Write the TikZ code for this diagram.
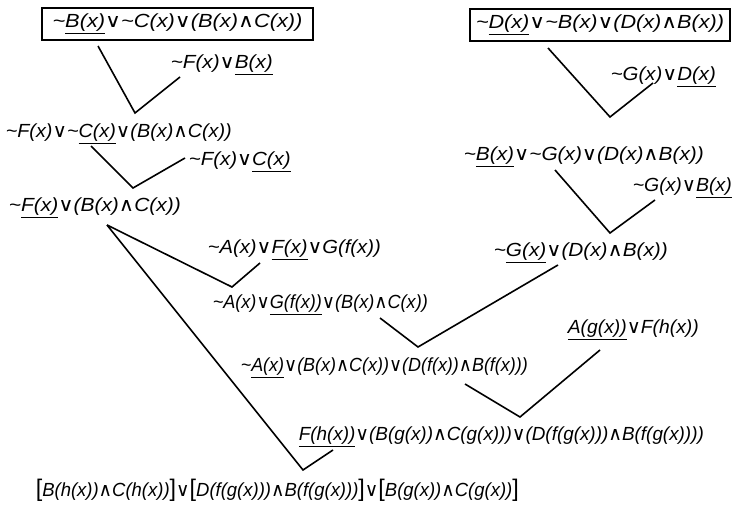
\documentclass[tikz,border=0pt]{standalone}
\usepackage{fontspec}
\usepackage{graphicx}
\newfontfamily\rf{Liberation Sans}
\newfontfamily\symf{DejaVu Sans}
\newcommand{\myor}{{\symf\upshape ∨}}
\newcommand{\myand}{{\symf\upshape ∧}}
\newcommand{\mynot}{\textasciitilde}
\newcommand{\uln}[1]{\underline{#1}}
\newcommand{\fitw}[2]{\resizebox{#1pt}{\height}{#2}}
\newcommand{\mylb}{{\fontsize{24}{24}\selectfont\upshape[}}
\newcommand{\myrb}{{\fontsize{24}{24}\selectfont\upshape]}}
\begin{document}
\begin{tikzpicture}[x=1pt,y=-1pt,line width=1.6pt,
  txt/.style={anchor=west,inner sep=0pt,font=\rf\itshape\fontsize{19}{22}\selectfont},
  boxed/.style={draw,line width=1.8pt,inner sep=0pt,minimum height=32pt,font=\rf\itshape\fontsize{19}{22}\selectfont}]
\useasboundingbox (0,0) rectangle (737,506);
% boxed premises
\node[boxed,minimum width=271pt] (n1) at (177.5,24) {\fitw{250}{\mynot\uln{B(x)}\myor\mynot C(x)\myor(B(x)\myand C(x))}};
\node[boxed,minimum width=260pt] (n2) at (600,25) {\fitw{248}{\mynot\uln{D(x)}\myor\mynot B(x)\myor(D(x)\myand B(x))}};
% clauses
\node[txt] (n3) at (170,65) {\fitw{102}{\mynot F(x)\myor\uln{B(x)}}};
\node[txt] (n4) at (610,77) {\fitw{105}{\mynot G(x)\myor\uln{D(x)}}};
\node[txt] (n5) at (5,134) {\fitw{226}{\mynot F(x)\myor\mynot\uln{C(x)}\myor(B(x)\myand C(x))}};
\node[txt] (n6) at (188,162) {\fitw{102}{\mynot F(x)\myor\uln{C(x)}}};
\node[txt] (n7) at (463,157) {\fitw{240}{\mynot\uln{B(x)}\myor\mynot G(x)\myor(D(x)\myand B(x))}};
\node[txt] (n8) at (632,188) {\fitw{99}{\mynot G(x)\myor\uln{B(x)}}};
\node[txt] (n9) at (8,208) {\fitw{172}{\mynot\uln{F(x)}\myor(B(x)\myand C(x))}};
\node[txt] (n10) at (207,250) {\fitw{173}{\mynot A(x)\myor\uln{F(x)}\myor G(f(x))}};
\node[txt] (n11) at (493,253) {\fitw{174}{\mynot\uln{G(x)}\myor(D(x)\myand B(x))}};
\node[txt] (n12) at (212,305) {\fitw{215}{\mynot A(x)\myor\uln{G(f(x))}\myor(B(x)\myand C(x))}};
\node[txt] (n13) at (567,330) {\fitw{131}{\uln{A(g(x))}\myor F(h(x))}};
\node[txt] (n14) at (240,368) {\fitw{287}{\mynot\uln{A(x)}\myor(B(x)\myand C(x))\myor(D(f(x))\myand B(f(x)))}};
\node[txt] (n15) at (298,437) {\fitw{405}{\uln{F(h(x))}\myor(B(g(x))\myand C(g(x)))\myor(D(f(g(x)))\myand B(f(g(x))))}};
\node[txt] (n16) at (35,490) {\fitw{483}{\mylb B(h(x))\myand C(h(x))\myrb\myor\mylb D(f(g(x)))\myand B(f(g(x)))\myrb\myor\mylb B(g(x))\myand C(g(x))\myrb}};
% connector points
\coordinate (a1) at (98,46);  \coordinate (v1) at (135,113); \coordinate (b1) at (180,77);
\coordinate (a2) at (548,48); \coordinate (v2) at (610,117); \coordinate (b2) at (653,83);
\coordinate (a3) at (91,146); \coordinate (v3) at (133,188); \coordinate (b3) at (185,158);
\coordinate (a4) at (555,170); \coordinate (v4) at (610,233); \coordinate (b4) at (655,200);
\coordinate (a5) at (107,225); \coordinate (v5) at (232,287); \coordinate (b5) at (260,263);
\coordinate (v8) at (303,470); \coordinate (b8) at (333,450);
\coordinate (a6) at (380,318); \coordinate (v6) at (418,347); \coordinate (b6) at (558,265);
\coordinate (a7) at (465,384); \coordinate (v7) at (520,417); \coordinate (b7) at (600,350);
% connectors
\draw (a1) -- (v1) -- (b1);
\draw (a2) -- (v2) -- (b2);
\draw (a3) -- (v3) -- (b3);
\draw (a4) -- (v4) -- (b4);
\draw (a5) -- (v5) -- (b5);
\draw (a5) -- (v8) -- (b8);
\draw (a6) -- (v6) -- (b6);
\draw (a7) -- (v7) -- (b7);
\end{tikzpicture}
\end{document}
